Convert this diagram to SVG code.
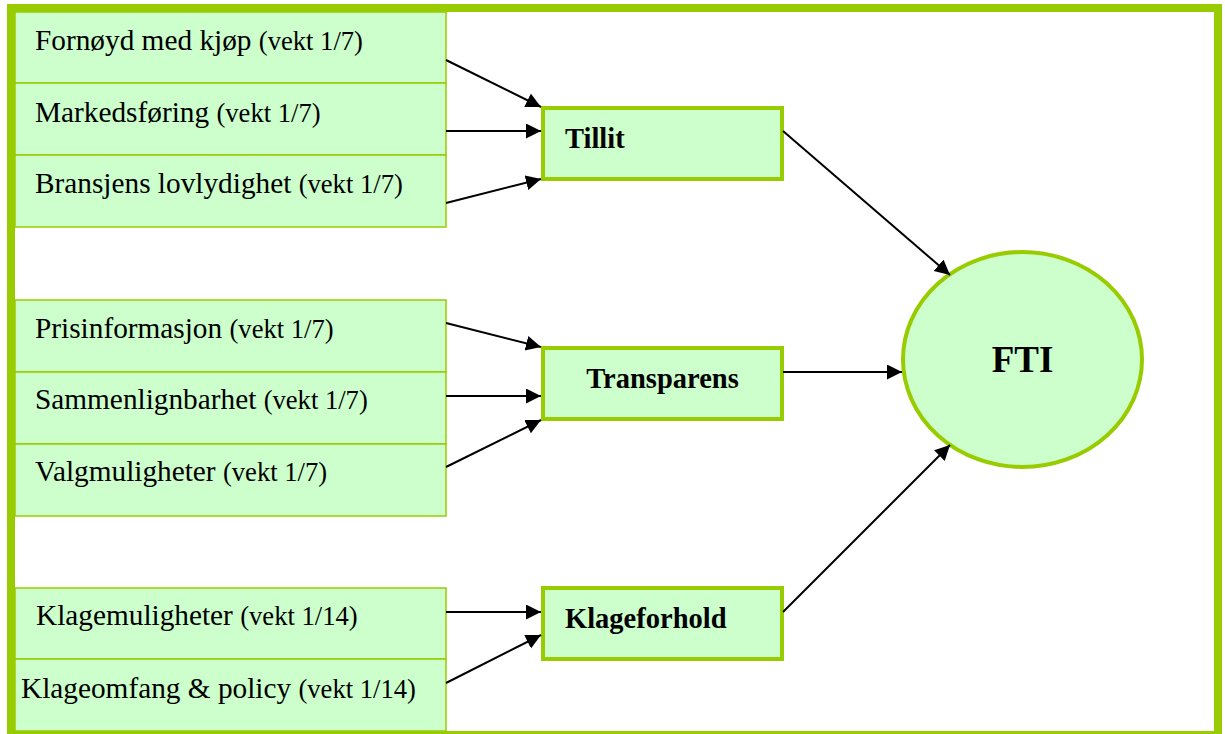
<svg xmlns="http://www.w3.org/2000/svg" width="1225" height="734" viewBox="0 0 1225 734">
<style>
.frame{fill:none;stroke:#99cc00;stroke-width:8}
.item{fill:#ccffcc;stroke:#99cc00;stroke-width:1.5}
.mid{fill:#ccffcc;stroke:#99cc00;stroke-width:4}
.main{font-family:"Liberation Serif","Times New Roman",serif;font-size:29.3px;fill:#000}
.wt{font-size:26.6px}
.bold{font-family:"Liberation Serif","Times New Roman",serif;font-size:28.5px;font-weight:bold;fill:#000}
.conn line{stroke:#000;stroke-width:2;marker-end:url(#ah)}
</style>
<defs>
<marker id="ah" markerUnits="userSpaceOnUse" markerWidth="16" markerHeight="16" refX="15" refY="7.5" orient="auto">
<path d="M0,0 L15,7.5 L0,15 z" fill="#000"/>
</marker>
</defs>
<rect width="1225" height="734" fill="#fff"/>
<rect class="frame" x="11" y="8" width="1207" height="727"/>

<g id="n-fornoyd"><rect class="item" x="15" y="12" width="431" height="71"/><text class="main" x="35" y="50">Fornøyd med kjøp <tspan class="wt">(vekt 1/7)</tspan></text></g>
<g id="n-markedsforing"><rect class="item" x="15" y="83" width="431" height="72"/><text class="main" x="35" y="122">Markedsføring <tspan class="wt">(vekt 1/7)</tspan></text></g>
<g id="n-bransjens"><rect class="item" x="15" y="155" width="431" height="72"/><text class="main" x="35" y="193">Bransjens lovlydighet <tspan class="wt">(vekt 1/7)</tspan></text></g>

<g id="n-prisinformasjon"><rect class="item" x="15" y="300" width="431" height="72"/><text class="main" x="35" y="338">Prisinformasjon <tspan class="wt">(vekt 1/7)</tspan></text></g>
<g id="n-sammenlignbarhet"><rect class="item" x="15" y="372" width="431" height="72"/><text class="main" x="35" y="409">Sammenlignbarhet <tspan class="wt">(vekt 1/7)</tspan></text></g>
<g id="n-valgmuligheter"><rect class="item" x="15" y="444" width="431" height="72"/><text class="main" x="35" y="481">Valgmuligheter <tspan class="wt">(vekt 1/7)</tspan></text></g>

<g id="n-klagemuligheter"><rect class="item" x="15" y="588" width="431" height="71"/><text class="main" x="36" y="625">Klagemuligheter <tspan class="wt">(vekt 1/14)</tspan></text></g>
<g id="n-klageomfang"><rect class="item" x="15" y="659" width="431" height="72"/><text class="main" x="21" y="698">Klageomfang &amp; policy <tspan class="wt">(vekt 1/14)</tspan></text></g>

<g id="n-tillit"><rect class="mid" x="543" y="108" width="239" height="71"/><text class="bold" x="565" y="148">Tillit</text></g>
<g id="n-transparens"><rect class="mid" x="543" y="348" width="239" height="71"/><text class="bold" x="662.5" y="388" text-anchor="middle">Transparens</text></g>
<g id="n-klageforhold"><rect class="mid" x="543" y="588" width="239" height="71"/><text class="bold" x="565" y="628">Klageforhold</text></g>

<g id="n-fti"><ellipse cx="1022.5" cy="359.5" rx="119.5" ry="107.5" fill="#ccffcc" stroke="#99cc00" stroke-width="4"/><text class="bold" x="1022.5" y="372" text-anchor="middle" style="font-size:37px">FTI</text></g>

<g id="connectors" class="conn">
<line x1="446" y1="60" x2="541" y2="107"/>
<line x1="446" y1="131" x2="541" y2="131"/>
<line x1="446" y1="203" x2="541" y2="179"/>
<line x1="446" y1="323" x2="541" y2="347"/>
<line x1="446" y1="396" x2="541" y2="396"/>
<line x1="446" y1="467" x2="541" y2="420"/>
<line x1="446" y1="612" x2="541" y2="612"/>
<line x1="446" y1="683" x2="541" y2="635"/>
<line x1="783" y1="131" x2="950" y2="275"/>
<line x1="783" y1="372" x2="902" y2="372"/>
<line x1="783" y1="612" x2="950" y2="445"/>
</g>
</svg>
